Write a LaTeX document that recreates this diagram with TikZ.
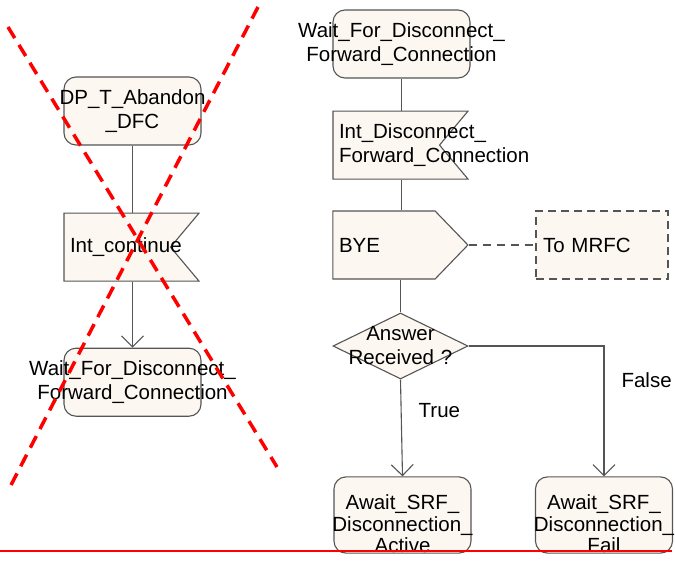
\documentclass[tikz,border=0pt]{standalone}
\usepackage{fontspec}
\setmainfont{Liberation Sans}
\usetikzlibrary{arrows.meta,positioning,shapes.symbols,shapes.geometric}
\definecolor{sdlfill}{RGB}{253,247,241}
\definecolor{sdlline}{RGB}{85,85,85}
\newcommand{\ovl}[1]{\makebox[0pt]{#1}}
\tikzset{
  sym/.style={draw=sdlline, fill=sdlfill, line width=1.1pt, font=\fontsize{20.5}{24}\selectfont},
  statebox/.style={sym, rectangle, rounded corners=12pt, minimum width=137pt, minimum height=68pt, text width=100pt, align=center, inner sep=0pt},
  inbox/.style={sym, signal, signal to=nowhere, signal from=east, signal pointer angle=100, minimum height=68pt, text width=94.5pt, align=left, inner xsep=6pt, inner ysep=0pt},
  outbox/.style={sym, signal, signal to=east, signal pointer angle=92, minimum width=135pt, minimum height=68pt, text width=90pt, align=left, inner xsep=6pt, inner ysep=0pt},
  decide/.style={sym, diamond, aspect=2, minimum width=135pt, minimum height=66pt, text width=0pt, align=center, inner sep=0pt},
  notebox/.style={sym, dash pattern=on 8pt off 5pt, minimum width=132pt, minimum height=68pt, text width=118pt, align=left, inner xsep=7pt},
  flow/.style={draw=sdlline, line width=1.1pt},
  flowarr/.style={flow, -{Straight Barb[length=11pt,width=22pt]}},
  cross/.style={red, line width=3.5pt, dash pattern=on 13pt off 8pt},
  lbl/.style={font=\fontsize{20.5}{24}\selectfont, inner sep=0pt},
}
\begin{document}
\begin{tikzpicture}[x=1pt, y=-1pt]
  \useasboundingbox (0,0) rectangle (675,562);

  % left column
  \node[statebox] (abandon) at (132.5,111) {\ovl{DP\_T\_Abandon}\\\ovl{\_DFC}};
  \node[inbox, below=67pt of abandon.south west, anchor=north west] (intcont) {Int\_continue};
  \node[statebox, below=66pt of abandon |- intcont.south] (waitL) {\ovl{Wait\_For\_Disconnect\_}\\\ovl{Forward\_Connection}};

  \draw[flow] (abandon) -- (abandon |- intcont.north);
  \draw[flowarr] (abandon |- intcont.south) -- (waitL);

  % right column
  \node[statebox] (waitR) at (401.5,44) {\ovl{Wait\_For\_Disconnect\_}\\\ovl{Forward\_Connection}};
  \node[inbox, below=32pt of waitR.south west, anchor=north west] (intdisc) {Int\_Disconnect\_\\Forward\_Connection};
  \node[outbox] (bye) at (384,245) {BYE};
  \node[notebox] (mrfc) at (602,245) {To MRFC};
  \node[decide] (answer) at (400.5,346) {\ovl{Answer}\\\ovl{Received ?}};
  \node[statebox] (active) at (402.5,515) {\ovl{Await\_SRF\_}\rule{0pt}{33pt}\\[-2.5pt]\ovl{Disconnection\_}\\[-2.5pt]\ovl{Active}};
  \node[statebox] (fail) at (604,515) {\ovl{Await\_SRF\_}\rule{0pt}{33pt}\\[-2.5pt]\ovl{Disconnection\_}\\[-2.5pt]\ovl{Fail}};

  \draw[flow] (waitR) -- (waitR |- intdisc.north);
  \draw[flow] (waitR |- intdisc.south) -- (waitR |- bye.north);
  \draw[flow, dash pattern=on 8pt off 6pt] (bye.east) -- (mrfc.west);
  \draw[flow] (answer |- bye.south) -- (answer);
  \draw[flowarr] (answer.south) -- node[lbl, pos=0.32, right=17pt] {True} (active.north);
  \draw[flowarr] (answer.east) -| node[lbl, pos=0.63, right=17pt] {False} (fail.north);

  % crossing out
  \draw[cross] (8,27) -- (277,467);
  \draw[cross] (258,7) -- (10,487);
  \draw[red, line width=2.5pt] (0,551) -- (672,551);
\end{tikzpicture}
\end{document}
